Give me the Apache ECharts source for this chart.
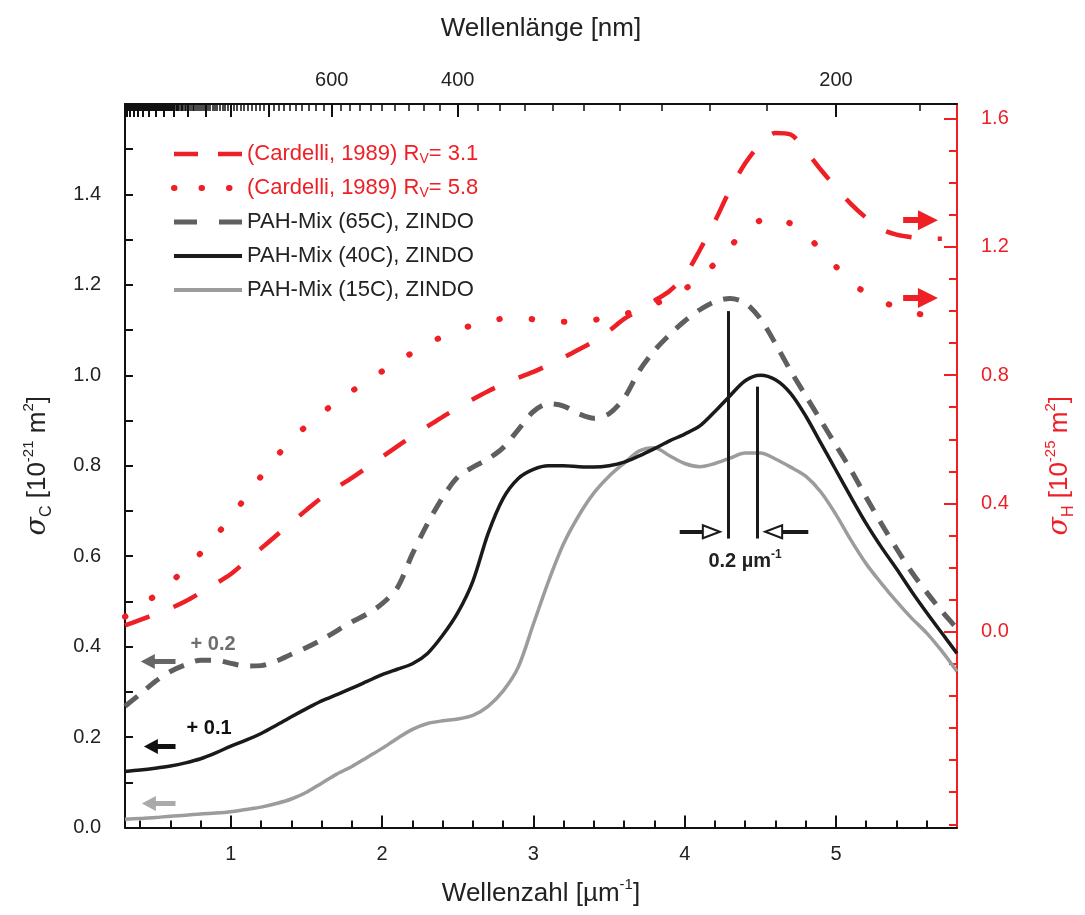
<!DOCTYPE html>
<html><head><meta charset="utf-8">
<script src="https://cdn.jsdelivr.net/npm/echarts@6/dist/echarts.min.js"></script>
<style>html,body{margin:0;padding:0;background:#fff}#c{width:1085px;height:915px}</style>
</head><body><div id="c"></div>
<script>
// ---- data ----
const wavenumber = [0.3,0.4,0.5,0.6,0.7,0.8,0.9,1.0,1.1,1.2,1.3,1.4,1.5,1.6,1.7,1.8,1.9,2.0,2.1,2.2,2.3,2.4,2.5,2.6,2.7,2.8,2.9,3.0,3.1,3.2,3.3,3.4,3.5,3.6,3.7,3.8,3.9,4.0,4.1,4.2,4.3,4.4,4.5,4.6,4.7,4.8,4.9,5.0,5.1,5.2,5.3,5.4,5.5,5.6,5.7,5.8];
const pah15 = [0.018,0.020,0.022,0.025,0.027,0.030,0.032,0.035,0.040,0.045,0.053,0.063,0.078,0.098,0.118,0.135,0.155,0.175,0.197,0.217,0.230,0.236,0.240,0.248,0.268,0.302,0.355,0.450,0.545,0.628,0.690,0.740,0.777,0.806,0.833,0.840,0.822,0.805,0.798,0.805,0.817,0.828,0.828,0.815,0.797,0.777,0.742,0.692,0.635,0.583,0.540,0.500,0.463,0.430,0.390,0.345];
const pah40 = [0.124,0.127,0.131,0.136,0.143,0.152,0.165,0.180,0.193,0.208,0.226,0.245,0.263,0.280,0.294,0.308,0.323,0.338,0.350,0.362,0.385,0.425,0.475,0.545,0.650,0.728,0.772,0.792,0.800,0.800,0.798,0.797,0.800,0.808,0.822,0.838,0.855,0.870,0.888,0.920,0.955,0.988,1.000,0.990,0.960,0.910,0.850,0.790,0.730,0.672,0.620,0.572,0.522,0.475,0.430,0.385];
const pah65 = [0.268,0.295,0.323,0.345,0.360,0.370,0.370,0.363,0.357,0.358,0.368,0.383,0.398,0.415,0.435,0.455,0.472,0.495,0.530,0.605,0.672,0.730,0.775,0.797,0.815,0.840,0.880,0.920,0.937,0.932,0.915,0.905,0.915,0.950,1.010,1.055,1.090,1.120,1.145,1.163,1.170,1.160,1.125,1.070,1.010,0.955,0.900,0.845,0.790,0.730,0.672,0.617,0.565,0.520,0.478,0.440];
const cardelli31 = [0.020,0.037,0.055,0.073,0.095,0.122,0.150,0.180,0.220,0.260,0.300,0.340,0.380,0.418,0.450,0.480,0.512,0.545,0.578,0.610,0.640,0.670,0.698,0.725,0.750,0.772,0.792,0.810,0.832,0.855,0.880,0.905,0.938,0.975,1.003,1.032,1.062,1.110,1.190,1.280,1.378,1.460,1.520,1.555,1.550,1.500,1.440,1.385,1.333,1.290,1.255,1.238,1.230,1.226,1.225];
const cardelli58 = [0.047,0.080,0.113,0.153,0.197,0.245,0.300,0.355,0.422,0.485,0.545,0.598,0.642,0.682,0.716,0.750,0.782,0.812,0.842,0.870,0.898,0.920,0.940,0.956,0.968,0.976,0.978,0.974,0.968,0.966,0.968,0.972,0.980,0.990,1.004,1.022,1.040,1.068,1.103,1.148,1.200,1.250,1.282,1.293,1.272,1.237,1.190,1.138,1.090,1.055,1.030,1.012,0.997,0.985,0.976];

const seriesNames = ['(Cardelli, 1989) RV= 3.1','(Cardelli, 1989) RV= 5.8','PAH-Mix (65C), ZINDO','PAH-Mix (40C), ZINDO','PAH-Mix (15C), ZINDO'];
const xTickLabels = [1,2,3,4,5];
const xMinorTicks = [0.4,0.6,0.8,1.2,1.4,1.6,1.8,2.2,2.4,2.6,2.8,3.2,3.4,3.6,3.8,4.2,4.4,4.6,4.8,5.2,5.4,5.6];
const leftTickLabels = [0.0,0.2,0.4,0.6,0.8,1.0,1.2,1.4];
const leftTicks = [0.1,0.2,0.3,0.4,0.5,0.6,0.7,0.8,0.9,1.0,1.1,1.2,1.3,1.4,1.5];
const rightTickLabels = [0.0,0.4,0.8,1.2,1.6];
const rightMinorTicks = [-0.6,-0.5,-0.4,-0.3,-0.2,-0.1,0.1,0.2,0.3,0.5,0.6,0.7,0.9,1.0,1.1,1.3,1.4,1.5];
const wavelengthLabels = [600,400,200];
const wavelengthMajor = [200,400,600,800,1000,1200,1400,1600,1800,2000,2200,2400,2600,2800,3000,3200];
const wavelengthMinor = [];
for (let l = 180; l <= 3320; l += 20) wavelengthMinor.push(l);

// annotations (data coordinates)
const shiftArrowsLeft = [ // [from x, to x, y, colour] on left axis
  [0.634, 0.451, 0.367, '#666666'],
  [0.634, 0.471, 0.179, '#111111'],
  [0.634, 0.458, 0.053, '#aaaaaa']
];
const redArrowsRight = [[5.444, 5.608, 1.283],[5.444, 5.608, 1.040]];
const peakLines = [[4.29, 0.639, 1.142],[4.48, 0.639, 0.975]];
const peakArrows = [[3.967, 4.176, 0.654],[4.817, 4.588, 0.654]];

// ---- chart ----
const FONT = 'Liberation Sans, Arial, Helvetica, sans-serif';
const RED = '#ee2026';
const pairs = (vals) => vals.map((v, i) => [wavenumber[i], v]);
const chart = echarts.init(document.getElementById('c'));

const supRich = {
  sup: {fontSize: 15, lineHeight: 12, padding: [0,0,18,0], fontFamily: FONT},
  sub: {fontSize: 16, lineHeight: 12, padding: [18,0,0,0], fontFamily: FONT},
  it: {fontSize: 27, fontStyle: 'italic', fontFamily: 'DejaVu Serif, serif', lineHeight: 30}
};
const tickText = {color: '#222', fontSize: 20, fontFamily: FONT};

chart.setOption({
  animation: false,
  backgroundColor: '#fff',
  grid: {left: 125, right: 118, top: 104, bottom: 87},
  legend: {
    orient: 'vertical', left: 166, top: 137,
    itemWidth: 68, itemHeight: 14, itemGap: 10,
    itemStyle: {opacity: 0},
    textStyle: {fontSize: 22, fontFamily: FONT, lineHeight: 24,
      rich: {sub: {fontSize: 14, lineHeight: 10, padding: [10,0,0,0], fontFamily: FONT}}},
    formatter: (n) => n.replace('RV=', 'R{sub|V}='),
    data: [
      {name: seriesNames[0], textStyle: {color: RED}, lineStyle: {width: 4.5, type: [24, 20]}},
      {name: seriesNames[1], textStyle: {color: RED}, lineStyle: {width: 6, type: [0.5, 27], cap: 'round'}},
      {name: seriesNames[2], textStyle: {color: '#222'}, lineStyle: {width: 5, type: [23, 22]}},
      {name: seriesNames[3], textStyle: {color: '#222'}, lineStyle: {width: 4}},
      {name: seriesNames[4], textStyle: {color: '#222'}, lineStyle: {width: 4}}
    ]
  },
  xAxis: [
    {type: 'value', position: 'bottom', min: 0.3, max: 5.8,
      name: 'Wellenzahl [µm{sup|-1}]', nameLocation: 'middle', nameGap: 51,
      nameTextStyle: {fontSize: 26, fontFamily: FONT, color: '#222', lineHeight: 30, rich: supRich},
      axisLine: {show: true, onZero: false, lineStyle: {color: '#111', width: 2}},
      axisTick: {show: true, inside: true, length: 12, lineStyle: {color: '#111', width: 2}, customValues: xTickLabels},
      axisLabel: Object.assign({show: true, margin: 17, customValues: xTickLabels, formatter: (v) => String(Math.round(v))}, tickText),
      splitLine: {show: false}},
    {type: 'value', position: 'bottom', min: 0.3, max: 5.8,
      axisLine: {show: false, onZero: false},
      axisTick: {show: true, inside: true, length: 7, lineStyle: {color: '#111', width: 2}, customValues: xMinorTicks},
      axisLabel: {show: false}, splitLine: {show: false}},
    {type: 'value', position: 'top', min: 0.3, max: 5.8,
      name: 'Wellenlänge [nm]', nameLocation: 'middle', nameGap: 62,
      nameTextStyle: {fontSize: 26, fontFamily: FONT, color: '#222'},
      axisLine: {show: true, onZero: false, lineStyle: {color: '#111', width: 2}},
      axisTick: {show: true, inside: true, length: 13, lineStyle: {color: '#111', width: 2}, customValues: wavelengthMajor.map(l => 1000 / l)},
      axisLabel: Object.assign({show: true, margin: 14, customValues: wavelengthLabels.map(l => 1000 / l), formatter: (v) => String(Math.round(1000 / v))}, tickText),
      splitLine: {show: false}},
    {type: 'value', position: 'top', min: 0.3, max: 5.8,
      axisLine: {show: false, onZero: false},
      axisTick: {show: true, inside: true, length: 7, lineStyle: {color: '#111', width: 1.5}, customValues: wavelengthMinor.map(l => 1000 / l)},
      axisLabel: {show: false}, splitLine: {show: false}}
  ],
  yAxis: [
    {type: 'value', position: 'left', min: 0, max: 1.6,
      name: '{it|σ}{sub|C} [10{sup|-21} m{sup|2}]', nameLocation: 'middle', nameGap: 72,
      nameTextStyle: {fontSize: 26, fontFamily: FONT, color: '#222', lineHeight: 30, rich: supRich},
      axisLine: {show: true, onZero: false, lineStyle: {color: '#111', width: 2}},
      axisTick: {show: true, inside: true, length: 8, lineStyle: {color: '#111', width: 2}, customValues: leftTicks},
      axisLabel: Object.assign({show: true, margin: 24, customValues: leftTickLabels, formatter: (v) => v.toFixed(1)}, tickText),
      splitLine: {show: false}},
    {type: 'value', position: 'right', min: -0.61, max: 1.645,
      name: '{it|σ}{sub|H} [10{sup|-25} m{sup|2}]', nameLocation: 'middle', nameGap: 88,
      nameTextStyle: {fontSize: 26, fontFamily: FONT, color: RED, lineHeight: 30, rich: supRich},
      axisLine: {show: true, onZero: false, lineStyle: {color: RED, width: 2}},
      axisTick: {show: true, inside: true, length: 13, lineStyle: {color: RED, width: 2}, customValues: rightTickLabels},
      axisLabel: Object.assign({}, tickText, {show: true, color: RED, margin: 24, customValues: rightTickLabels, formatter: (v) => v.toFixed(1)}),
      splitLine: {show: false}},
    {type: 'value', position: 'right', min: -0.61, max: 1.645,
      axisLine: {show: false, onZero: false},
      axisTick: {show: true, inside: true, length: 8, lineStyle: {color: RED, width: 2}, customValues: rightMinorTicks},
      axisLabel: {show: false}, splitLine: {show: false}}
  ],
  series: [
    {name: seriesNames[0], type: 'line', xAxisIndex: 0, yAxisIndex: 1, data: pairs(cardelli31),
      smooth: 0.3, symbol: 'none', z: 3,
      lineStyle: {color: RED, width: 4.5, type: [26, 26]}, itemStyle: {color: RED},
      markLine: {silent: true, symbol: ['none', 'triangle'], symbolSize: [20, 20], label: {show: false},
        lineStyle: {color: RED, width: 6, type: 'solid'},
        data: redArrowsRight.map(a => [{coord: [a[0], a[2]]}, {coord: [a[1], a[2]]}])}},
    {name: seriesNames[1], type: 'line', xAxisIndex: 0, yAxisIndex: 1, data: pairs(cardelli58),
      smooth: 0.3, symbol: 'none', z: 3,
      lineStyle: {color: RED, width: 6, type: [0.5, 32], cap: 'round'}, itemStyle: {color: RED}},
    {name: seriesNames[2], type: 'line', xAxisIndex: 0, yAxisIndex: 0, data: pairs(pah65),
      smooth: 0.3, symbol: 'none', z: 4,
      lineStyle: {color: '#5f5f5f', width: 5, type: [16, 12]}, itemStyle: {color: '#5f5f5f'},
      markPoint: {silent: true, symbol: 'circle', symbolSize: 1, itemStyle: {color: 'rgba(0,0,0,0)'},
        data: [
          {coord: [0.882, 0.404], label: {show: true, position: 'inside', formatter: '+ 0.2', color: '#6e6e6e', fontSize: 20, fontWeight: 'bold', fontFamily: FONT}},
          {coord: [0.856, 0.219], label: {show: true, position: 'inside', formatter: '+ 0.1', color: '#111', fontSize: 20, fontWeight: 'bold', fontFamily: FONT}},
          {coord: [4.399, 0.588], label: {show: true, position: 'inside', formatter: '0.2 µm{sup|-1}', color: '#222', fontSize: 20, fontWeight: 'bold', fontFamily: FONT,
            rich: {sup: {fontSize: 12, fontWeight: 'bold', lineHeight: 8, padding: [0,0,14,0], fontFamily: FONT, color: '#222'}}}}
        ]},
      markLine: {silent: true, symbol: ['none', 'triangle'], symbolSize: [15, 14], label: {show: false},
        data: shiftArrowsLeft.map(a => [{coord: [a[0], a[2]], lineStyle: {color: a[3], width: 5, type: 'solid'}}, {coord: [a[1], a[2]]}])}},
    {name: seriesNames[3], type: 'line', xAxisIndex: 0, yAxisIndex: 0, data: pairs(pah40),
      smooth: 0.3, symbol: 'none', z: 5,
      lineStyle: {color: '#1a1a1a', width: 3.5}, itemStyle: {color: '#1a1a1a'},
      markLine: {silent: true, symbol: ['none', 'none'], label: {show: false},
        lineStyle: {color: '#1a1a1a', width: 3, type: 'solid'},
        data: peakLines.map(a => [{coord: [a[0], a[1]]}, {coord: [a[0], a[2]]}])}},
    {name: seriesNames[4], type: 'line', xAxisIndex: 0, yAxisIndex: 0, data: pairs(pah15),
      smooth: 0.3, symbol: 'none', z: 4,
      lineStyle: {color: '#9c9c9c', width: 3.5}, itemStyle: {color: '#9c9c9c'},
      markLine: {silent: true, symbol: ['none', 'emptyTriangle'], symbolSize: [13, 17], label: {show: false},
        lineStyle: {color: '#1a1a1a', width: 4, type: 'solid'},
        data: peakArrows.map(a => [{coord: [a[0], a[2]]}, {coord: [a[1], a[2]]}])}}
  ]
});
</script></body></html>
